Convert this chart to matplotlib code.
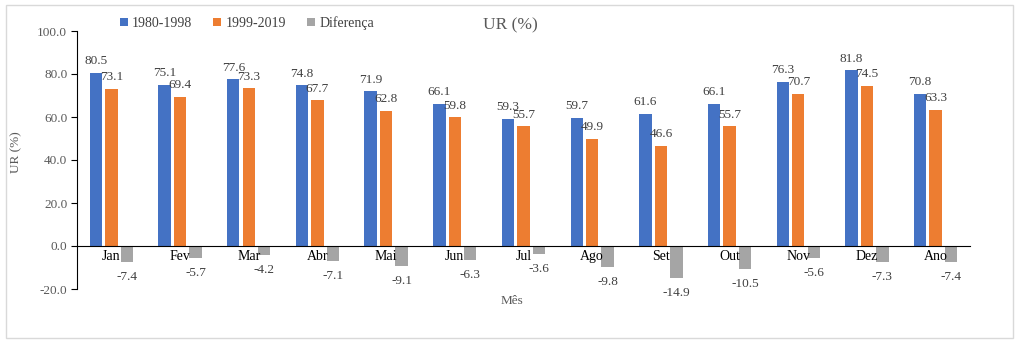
import matplotlib
matplotlib.use("Agg")
import matplotlib.pyplot as plt
import numpy as np
from matplotlib.patches import Rectangle

months = ["Jan", "Fev", "Mar", "Abr", "Mai", "Jun", "Jul", "Ago", "Set", "Out", "Nov", "Dez", "Ano"]
ur_1980_1998 = [80.5, 75.1, 77.6, 74.8, 71.9, 66.1, 59.3, 59.7, 61.6, 66.1, 76.3, 81.8, 70.8]
ur_1999_2019 = [73.1, 69.4, 73.3, 67.7, 62.8, 59.8, 55.7, 49.9, 46.6, 55.7, 70.7, 74.5, 63.3]
diferenca = [-7.4, -5.7, -4.2, -7.1, -9.1, -6.3, -3.6, -9.8, -14.9, -10.5, -5.6, -7.3, -7.4]
yticks = [-20.0, 0.0, 20.0, 40.0, 60.0, 80.0, 100.0]

plt.rcParams['font.family'] = ['Liberation Serif', 'DejaVu Serif']
TXT = '#595959'

fig = plt.figure(figsize=(10.24, 3.45), dpi=100)
ax = fig.add_axes([77/1024, 56/345, (970-77)/1024, (314-56)/345])

x = np.arange(len(months))
w = 0.18
off = 0.225
c1, c2, c3 = '#4472C4', '#ED7D31', '#A5A5A5'
b1 = ax.bar(x - off, ur_1980_1998, w, color=c1, label='1980-1998')
b2 = ax.bar(x, ur_1999_2019, w, color=c2, label='1999-2019')
b3 = ax.bar(x + off, diferenca, w, color=c3, label='Diferença')

fs = 9.5
for xi, v in zip(x, ur_1980_1998):
    ax.annotate(f"{v:.1f}", (xi - off, v), xytext=(0, 4), textcoords='offset points',
                ha='center', va='bottom', fontsize=fs, color='#404040')
for xi, v in zip(x, ur_1999_2019):
    ax.annotate(f"{v:.1f}", (xi, v), xytext=(0, 4), textcoords='offset points',
                ha='center', va='bottom', fontsize=fs, color='#404040')
for xi, v in zip(x, diferenca):
    ax.annotate(f"{v:.1f}", (xi + off, v), xytext=(0, -6.5), textcoords='offset points',
                ha='center', va='top', fontsize=fs, color='#404040')

ax.set_xlim(-0.5, len(months) - 0.5)
ax.set_ylim(-20, 100)
ax.set_yticks(yticks)
ax.set_yticklabels([f"{t:.1f}" for t in yticks], fontsize=fs, color=TXT)
ax.set_xticks(x)
ax.set_xticklabels(months, fontsize=fs, color=TXT)
ax.spines['bottom'].set_position(('data', 0))
ax.spines['top'].set_visible(False)
ax.spines['right'].set_visible(False)
ax.spines['left'].set_color('black')
ax.spines['bottom'].set_color('black')
ax.tick_params(axis='x', length=0, pad=3)
ax.tick_params(axis='y', length=4, direction='out', pad=3)

fig.text(512/1024, 1 - 301/345, 'Mês', ha='center', va='center', fontsize=fs, color=TXT)
fig.text(16/1024, 1 - 152/345, 'UR (%)', ha='center', va='center', rotation=90, fontsize=fs, color=TXT)
fig.text(510/1024, 1 - 25/345, 'UR (%)', ha='center', va='center', fontsize=12.5, color=TXT)

leg = fig.legend(handles=[b1, b2, b3], loc='center left', bbox_to_anchor=(114/1024, 1 - 23/345),
                 ncol=3, frameon=False, fontsize=10, handlelength=0.6, handleheight=0.6,
                 handletextpad=0.3, columnspacing=1.5, borderaxespad=0)
for t in leg.get_texts():
    t.set_color('#404040')

fig.patches.append(Rectangle((6/1024, 1 - 338/345), (1013-6)/1024, (338-5)/345,
                             transform=fig.transFigure, fill=False, edgecolor='#D9D9D9', linewidth=1))

fig.savefig('out.png', dpi=100)
